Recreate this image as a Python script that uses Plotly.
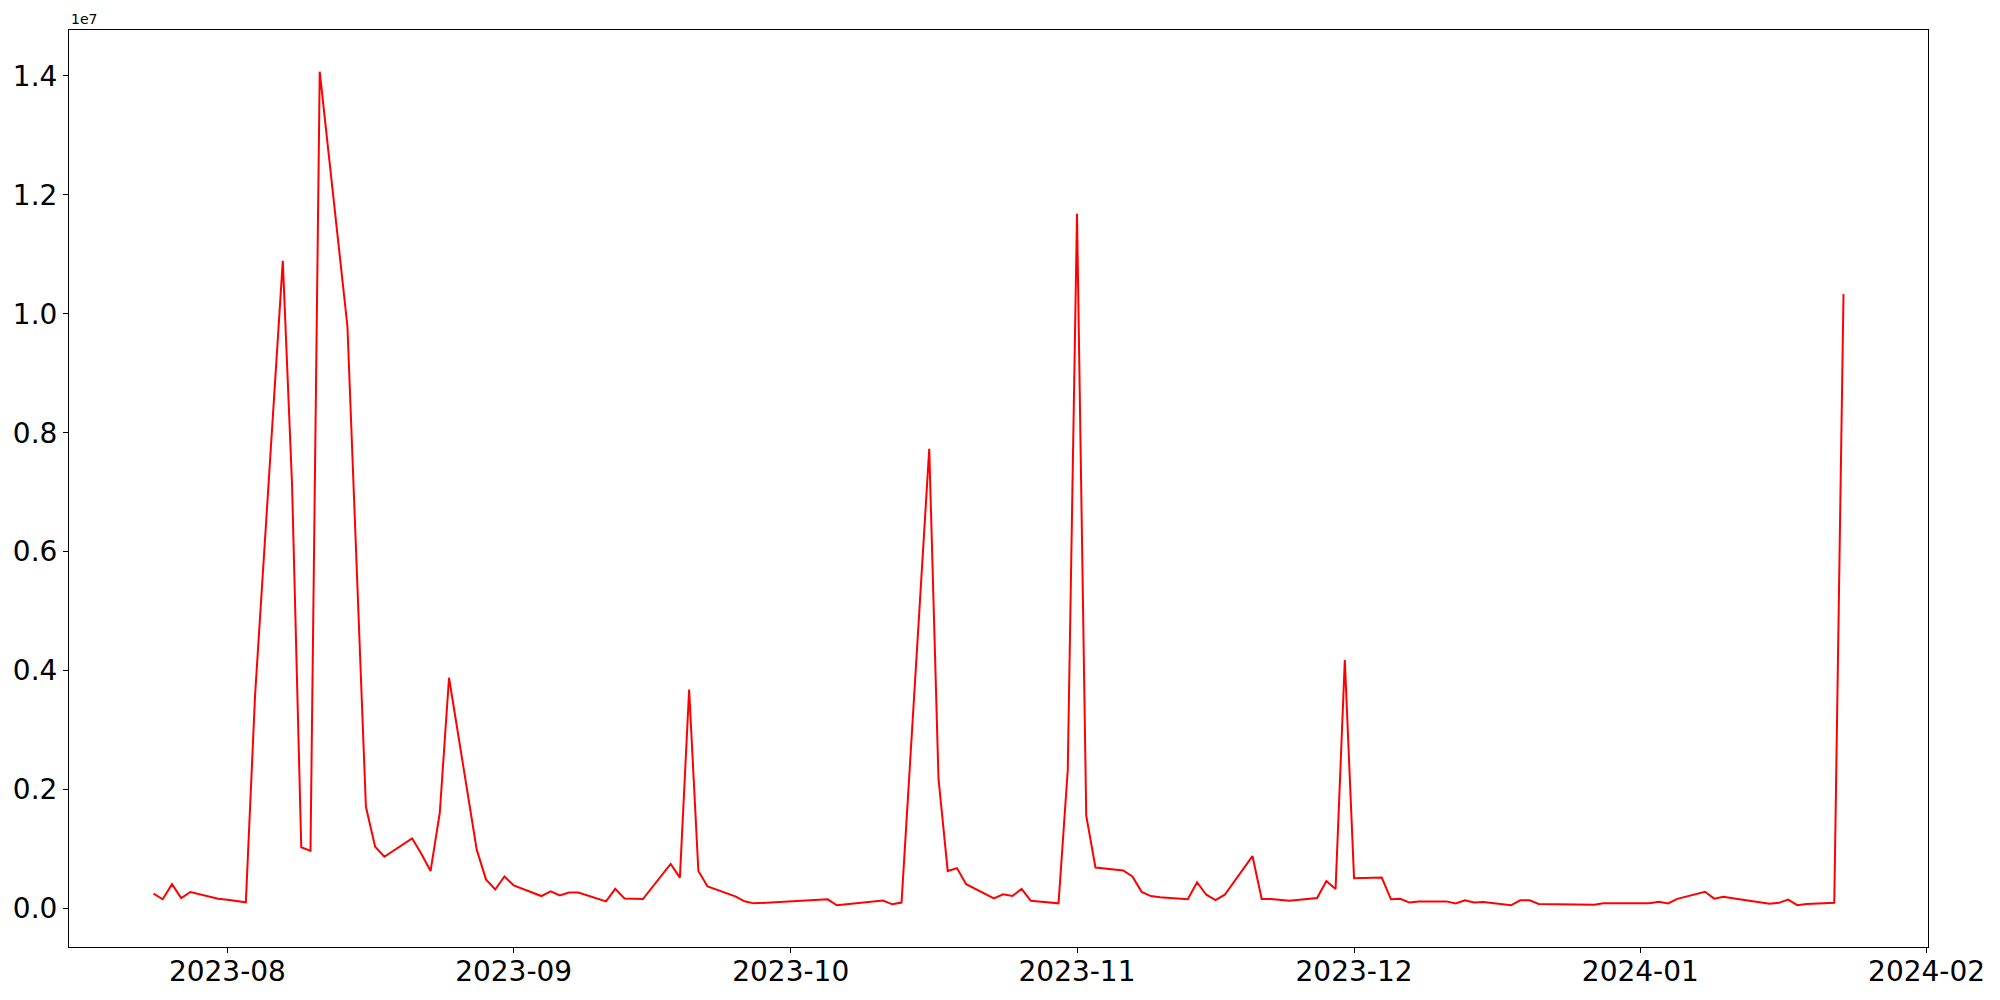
import pandas as pd
import plotly.graph_objects as go

dates = [
    "2023-07-24", "2023-07-25", "2023-07-26", "2023-07-27", "2023-07-28",
    "2023-07-31", "2023-08-01", "2023-08-02", "2023-08-03", "2023-08-04",
    "2023-08-07", "2023-08-08", "2023-08-09", "2023-08-10", "2023-08-11",
    "2023-08-14", "2023-08-16", "2023-08-17", "2023-08-18",
    "2023-08-21", "2023-08-22", "2023-08-23", "2023-08-24", "2023-08-25",
    "2023-08-28", "2023-08-29", "2023-08-30", "2023-08-31", "2023-09-01",
    "2023-09-04", "2023-09-05", "2023-09-06", "2023-09-07", "2023-09-08",
    "2023-09-11", "2023-09-12", "2023-09-13", "2023-09-14", "2023-09-15",
    "2023-09-18", "2023-09-19", "2023-09-20", "2023-09-21", "2023-09-22",
    "2023-09-25", "2023-09-26", "2023-09-27",
    "2023-10-05", "2023-10-06",
    "2023-10-11", "2023-10-12", "2023-10-13",
    "2023-10-16", "2023-10-17", "2023-10-18", "2023-10-19", "2023-10-20",
    "2023-10-23", "2023-10-24", "2023-10-25", "2023-10-26", "2023-10-27",
    "2023-10-30", "2023-10-31", "2023-11-01", "2023-11-02", "2023-11-03",
    "2023-11-06", "2023-11-07", "2023-11-08", "2023-11-09", "2023-11-10",
    "2023-11-13", "2023-11-14", "2023-11-15", "2023-11-16", "2023-11-17",
    "2023-11-20", "2023-11-21", "2023-11-22", "2023-11-24",
    "2023-11-27", "2023-11-28", "2023-11-29", "2023-11-30", "2023-12-01",
    "2023-12-04", "2023-12-05", "2023-12-06", "2023-12-07", "2023-12-08",
    "2023-12-11", "2023-12-12", "2023-12-13", "2023-12-14", "2023-12-15",
    "2023-12-18", "2023-12-19", "2023-12-20", "2023-12-21", "2023-12-22",
    "2023-12-25", "2023-12-26", "2023-12-27", "2023-12-28", "2023-12-29",
    "2024-01-02", "2024-01-03", "2024-01-04", "2024-01-05",
    "2024-01-08", "2024-01-09", "2024-01-10", "2024-01-11", "2024-01-12",
    "2024-01-15", "2024-01-16", "2024-01-17", "2024-01-18", "2024-01-19",
    "2024-01-22", "2024-01-23",
]

values = [
    250000, 156000, 409000, 175000, 278000,
    166000, 148000, 125000, 104000, 3590000,
    10890000, 7140000, 1030000, 970000, 14070000,
    9790000, 1710000, 1040000, 870000,
    1180000, 920000, 630000, 1610000, 3880000,
    990000, 490000, 320000, 540000, 390000,
    210000, 290000, 220000, 270000, 270000,
    120000, 330000, 170000, 165000, 160000,
    750000, 520000, 3680000, 630000, 370000,
    205000, 121000, 87000,
    155000, 54000,
    134000, 71000, 100000,
    7730000, 2190000, 630000, 680000, 410000,
    170000, 240000, 210000, 330000, 130000,
    88000, 2330000, 11680000, 1560000, 690000,
    640000, 540000, 280000, 210000, 190000,
    157000, 442000, 232000, 140000, 232000,
    882000, 162000, 162000, 132000,
    177000, 463000, 329000, 4178000, 508000,
    520000, 155000, 163000, 100000, 120000,
    120000, 87000, 140000, 101000, 110000,
    54000, 138000, 138000, 76000, 76000,
    72000, 70000, 65000, 87000, 87000,
    87000, 114000, 85000, 163000,
    282000, 166000, 197000, 174000, 151000,
    81000, 96000, 150000, 57000, 75000,
    96000, 10330000,
]

x_ticks = ["2023-08-01", "2023-09-01", "2023-10-01", "2023-11-01",
           "2023-12-01", "2024-01-01", "2024-02-01"]
x_ticktext = ["2023-08", "2023-09", "2023-10", "2023-11",
              "2023-12", "2024-01", "2024-02"]
y_ticks = [0, 2e6, 4e6, 6e6, 8e6, 1e7, 1.2e7, 1.4e7]
y_ticktext = ["0.0", "0.2", "0.4", "0.6", "0.8", "1.0", "1.2", "1.4"]
offset_label = "1e7"

d = pd.to_datetime(pd.Series(dates))
span = d.max() - d.min()
x_range = [d.min() - span * 0.05, d.max() + span * 0.05]
vmin, vmax = min(values), max(values)
vpad = (vmax - vmin) * 0.05
y_range = [vmin - vpad, vmax + vpad]

fig = go.Figure()
fig.add_trace(go.Scatter(
    x=d, y=values, mode="lines",
    line=dict(color="#ff0000", width=2),
    showlegend=False,
))

axis_common = dict(
    showgrid=False, zeroline=False,
    showline=True, linecolor="black", linewidth=1, mirror=True,
    ticks="outside", ticklen=5, tickwidth=1, tickcolor="black",
    tickfont=dict(family="DejaVu Sans", size=28, color="black"),
    automargin=False,
)

# the page body has an 8px margin, so the figure is sized to fit the window
fig.update_layout(
    width=1992, height=992,
    margin=dict(l=61, r=72, t=22, b=53),
    paper_bgcolor="white", plot_bgcolor="white",
    font=dict(family="DejaVu Sans", color="black"),
    xaxis=dict(range=x_range, tickmode="array", tickvals=x_ticks,
               ticktext=x_ticktext, ticklabelstandoff=-6, **axis_common),
    yaxis=dict(range=y_range, tickmode="array", tickvals=y_ticks,
               ticktext=y_ticktext, **axis_common),
    annotations=[dict(
        text=offset_label, xref="paper", yref="paper", x=0, y=1,
        xanchor="left", yanchor="bottom", showarrow=False, yshift=1,
        font=dict(family="DejaVu Sans", size=14, color="black"),
    )],
)

fig.write_html("out.html")
